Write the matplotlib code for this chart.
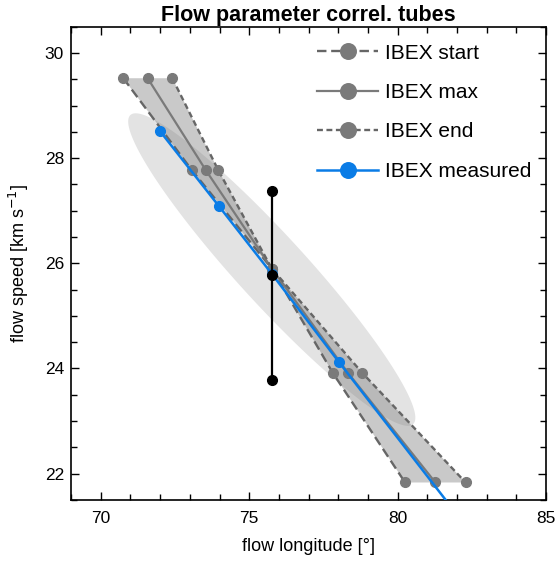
import numpy as np
import matplotlib
matplotlib.use("Agg")
import matplotlib.pyplot as plt
from matplotlib.ticker import MultipleLocator

plt.rcParams['font.family'] = ['Liberation Sans', 'DejaVu Sans']

# IBEX tubes (flow longitude, flow speed)
start_lon = [70.76, 73.07, 75.76, 77.81, 80.25]
max_lon = [71.58, 73.54, 75.76, 78.32, 81.27]
end_lon = [72.41, 73.96, 75.76, 78.80, 82.29]
tube_speed = [29.52, 27.77, 25.90, 23.92, 21.83]

meas_lon = [72.0, 73.99, 75.76, 78.01, 82.3]
meas_speed = [28.51, 27.08, 25.80, 24.13, 21.0]

# reference point with asymmetric error
ref_lon = 75.76
ref_speed = 25.78
ref_err_lo = 2.0
ref_err_hi = 1.6

# uncertainty ellipse: centre, major half-axis end, minor half-width (data units)
ell_center = (75.76, 25.88)
ell_tip = (71.0, 28.82)
ell_minor = (0.85, 0.44)

fig = plt.figure(figsize=(5.55, 5.68), dpi=100)
ax = fig.add_axes([0.128, 0.120, 0.856, 0.833])

t = np.linspace(0, 2 * np.pi, 200)
a = np.array(ell_tip) - np.array(ell_center)
b = np.array(ell_minor)
ex = ell_center[0] + np.cos(t) * a[0] + np.sin(t) * b[0]
ey = ell_center[1] + np.cos(t) * a[1] + np.sin(t) * b[1]
ax.fill(ex, ey, color='#e3e3e3', lw=0, zorder=1)

# tube between start and end
px = list(start_lon) + list(end_lon[::-1])
py = list(tube_speed) + list(tube_speed[::-1])
ax.fill(px, py, color='gray', alpha=0.42, lw=0, zorder=2)

gray = '#7a7a7a'
ax.plot(start_lon, tube_speed, ls=(0, (4, 2)), color='#666666', lw=1.7,
        marker='o', ms=7, mfc=gray, mec=gray, label='IBEX start', zorder=3)
ax.plot(max_lon, tube_speed, ls='-', color=gray, lw=1.6,
        marker='o', ms=7, mfc=gray, mec=gray, label='IBEX max', zorder=3)
ax.plot(end_lon, tube_speed, ls=(0, (2.5, 1.5)), color='#666666', lw=1.7,
        marker='o', ms=7, mfc=gray, mec=gray, label='IBEX end', zorder=3)
ax.plot(meas_lon, meas_speed, ls='-', color='#0a7ce6', lw=1.8,
        marker='o', ms=7, mfc='#0a7ce6', mec='#0a7ce6', label='IBEX measured', zorder=4)

ax.plot([ref_lon, ref_lon, ref_lon],
        [ref_speed - ref_err_lo, ref_speed, ref_speed + ref_err_hi],
        color='black', lw=1.6, marker='o', ms=7, zorder=5)

ax.set_xlim(69, 85)
ax.set_ylim(21.5, 30.5)
ax.xaxis.set_major_locator(MultipleLocator(5))
ax.xaxis.set_minor_locator(MultipleLocator(1))
ax.yaxis.set_major_locator(MultipleLocator(2))
ax.yaxis.set_minor_locator(MultipleLocator(0.5))
ax.tick_params(which='both', direction='in', top=True, right=True, labelsize=12.5, width=1)
ax.tick_params(which='major', length=6)
ax.tick_params(which='minor', length=4)
ax.tick_params(axis='x', pad=8)
ax.tick_params(axis='y', pad=5)
for s in ax.spines.values():
    s.set_linewidth(1.2)

ax.set_xlabel('flow longitude [°]', fontsize=13, labelpad=9)
ax.set_ylabel('flow speed [km s$^{-1}$]', fontsize=13, labelpad=10)
ax.set_title('Flow parameter correl. tubes', fontsize=15.5, fontweight='bold', pad=4)

ax.legend(loc='upper right', frameon=False, fontsize=15, markerscale=1.6,
          handlelength=2.9, handletextpad=0.35, labelspacing=0.98,
          borderaxespad=0.3, bbox_to_anchor=(1.0, 0.995))

fig.savefig('out.png', dpi=100)
